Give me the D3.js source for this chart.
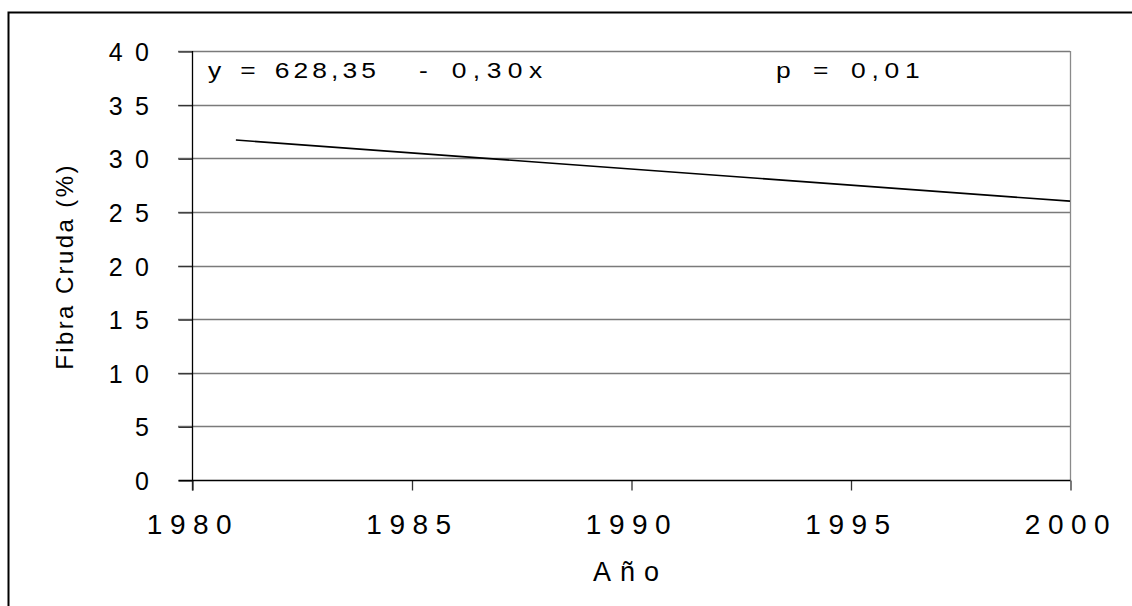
<!DOCTYPE html>
<html>
<head>
<meta charset="utf-8">
<script src="https://cdn.jsdelivr.net/npm/d3@7"></script>
<style>
  body { margin: 0; background: #fff; }
  text { font-family: "Liberation Sans", Arial, sans-serif; fill: #000; white-space: pre; }
</style>
</head>
<body>
<div id="main"></div>
<script>
// datos de la recta de regresion
const years = [1981, 2000];
const fibra = [31.7, 26.0];
const xTicks = [1980, 1985, 1990, 1995, 2000];
const yTicks = [0, 5, 10, 15, 20, 25, 30, 35, 40];
const eqLabel = ["y = 628,35", "- 0,30x"];
const pLabel = "p = 0,01";

const ctx = {
  SVG_W: 1132,
  SVG_H: 606,
  left: 192,
  right: 1070,
  top: 51,
  bottom: 480,
};

function addLabel(svgEl, txt, x, y, spacing) {
  // texto un poco ensanchado como en la figura original
  svgEl.append("g")
      .attr("transform", `translate(${x},${y}) scale(1.2,1)`)
      .append("text")
      .style("font-size", "22px")
      .style("letter-spacing", spacing + "px")
      .style("word-spacing", "3px")
      .text(txt);
}

function createViz() {
  const svgEl = d3.select("#main").append("svg")
      .attr("width", ctx.SVG_W)
      .attr("height", ctx.SVG_H);

  svgEl.append("rect")
      .attr("width", ctx.SVG_W).attr("height", ctx.SVG_H)
      .style("fill", "#fff");

  // marco exterior
  svgEl.append("rect")
      .attr("x", 8.5).attr("y", 12.5)
      .attr("width", 1200).attr("height", 700)
      .style("fill", "none").style("stroke", "#000").style("stroke-width", 2);

  const x = d3.scaleLinear().domain([1980, 2000]).range([ctx.left, ctx.right]);
  const y = d3.scaleLinear().domain([0, 40]).range([ctx.bottom, ctx.top]);

  // lineas de grilla
  svgEl.append("g")
    .selectAll("line")
    .data(yTicks.filter(d => d > 0))
    .enter().append("line")
      .attr("x1", ctx.left - 14).attr("x2", ctx.right)
      .attr("y1", d => Math.round(y(d)) + 0.5).attr("y2", d => Math.round(y(d)) + 0.5)
      .style("stroke", "#7a7a7a").style("stroke-width", 1.3);

  // borde derecho
  svgEl.append("line")
      .attr("x1", ctx.right + 0.5).attr("x2", ctx.right + 0.5)
      .attr("y1", ctx.top).attr("y2", ctx.bottom)
      .style("stroke", "#8a8a8a").style("stroke-width", 1.3);

  // eje y
  const yAxis = d3.axisLeft(y).tickValues(yTicks).tickSize(14).tickPadding(0)
      .tickFormat(d => d);
  const gy = svgEl.append("g")
      .attr("transform", `translate(${ctx.left + 0.5},0.5)`)
      .call(yAxis);
  gy.select(".domain").remove();
  gy.append("line").attr("y1", ctx.top - 0.5).attr("y2", ctx.bottom + 10)
      .style("stroke", "#000").style("stroke-width", 1.3);
  gy.selectAll(".tick line").style("stroke", "#333").style("stroke-width", 1.3);
  gy.selectAll(".tick text")
      .attr("x", -31).attr("dy", "0.36em")
      .style("font-size", "25px").style("letter-spacing", "12.5px")
      .style("font-family", "Liberation Sans, Arial, sans-serif").style("fill", "#000");

  // eje x
  const xAxis = d3.axisBottom(x).tickValues(xTicks).tickSize(10).tickPadding(0)
      .tickFormat(d => d);
  const gx = svgEl.append("g")
      .attr("transform", `translate(0.5,${ctx.bottom + 0.5})`)
      .call(xAxis);
  gx.select(".domain").remove();
  gx.append("line").attr("x1", ctx.left - 14).attr("x2", ctx.right)
      .style("stroke", "#000").style("stroke-width", 1.5);
  gx.selectAll(".tick line").style("stroke", "#333").style("stroke-width", 1.3);
  gx.selectAll(".tick text")
      .attr("y", 53).attr("dy", null)
      .style("font-size", "28px").style("letter-spacing", "7.5px")
      .style("font-family", "Liberation Sans, Arial, sans-serif").style("fill", "#000");

  // recta
  const line = d3.line().x(d => x(d[0])).y(d => y(d[1]));
  svgEl.append("path")
      .datum(d3.zip(years, fibra))
      .attr("d", line)
      .style("fill", "none").style("stroke", "#000").style("stroke-width", 1.6);

  // ecuacion y p
  addLabel(svgEl, eqLabel[0], 208, 78, 3.4);
  addLabel(svgEl, eqLabel[1], 419, 78, 5.4);
  addLabel(svgEl, pLabel, 776, 78, 4.8);

  svgEl.append("text")
      .attr("x", 630.5).attr("y", 581)
      .attr("text-anchor", "middle")
      .style("font-size", "27px").style("letter-spacing", "9px")
      .text("Año");

  svgEl.append("text")
      .attr("transform", `translate(73, ${(ctx.top + ctx.bottom) / 2 + 1}) rotate(-90)`)
      .attr("text-anchor", "middle")
      .style("font-size", "24px").style("letter-spacing", "2.4px")
      .text("Fibra Cruda (%)");
}

createViz();
</script>
</body>
</html>
